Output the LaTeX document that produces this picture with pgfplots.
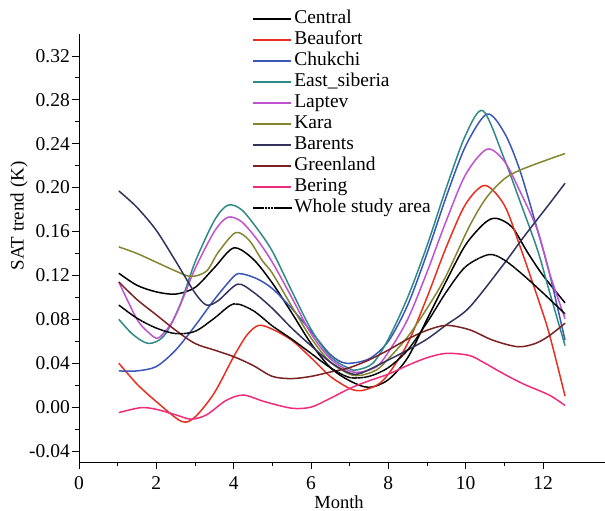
\documentclass[border=0pt]{standalone}
\usepackage{pgfplots}
\pgfplotsset{compat=1.18}
\usepackage{fontspec}
\setmainfont{Liberation Serif}
\definecolor{cBeau}{HTML}{E83020}
\definecolor{cChuk}{HTML}{3A56B8}
\definecolor{cEast}{HTML}{2F8A86}
\definecolor{cLap}{HTML}{C052D0}
\definecolor{cKara}{HTML}{858530}
\definecolor{cBar}{HTML}{33335E}
\definecolor{cGre}{HTML}{7A2222}
\definecolor{cBer}{HTML}{EE2C7C}
\begin{document}
\begin{tikzpicture}
\begin{axis}[
  x=38.667pt, y=1097.5pt,
  xmin=0, xmax=13.6, ymin=-0.05, ymax=0.34,
  axis lines*=left,
  axis line style={-, line width=0.8pt},
  tick align=outside,
  major tick length=7pt, minor tick length=4pt,
  every tick/.style={black, line width=0.8pt},
  xtick={0,2,4,6,8,10,12}, minor x tick num=1,
  ytick={-0.04,0,0.04,0.08,0.12,0.16,0.20,0.24,0.28,0.32}, minor y tick num=1,
  yticklabel style={/pgf/number format/.cd, fixed, fixed zerofill, precision=2, assume math mode=true},
  xticklabel style={/pgf/number format/assume math mode=true, yshift=-5pt},
  tick label style={font=\fontsize{19.5}{21}\selectfont, inner sep=2pt},
  xlabel={Month}, ylabel={SAT trend (K)},
  every axis x label/.style={at={(axis description cs:0.4944,-0.0928)}, anchor=center, font=\fontsize{18.5}{20}\selectfont},
  every axis y label/.style={at={(axis description cs:-0.1141,0.575)}, rotate=90, anchor=center, font=\fontsize{19}{20}\selectfont},
  legend style={at={(axis cs:4.474,0.363)}, anchor=north west, draw=none, fill=none,
    font=\fontsize{19.5}{21}\selectfont, row sep=0pt, column sep=1pt, inner sep=0pt,
    nodes={inner sep=1pt, text height=14pt, text depth=5pt}},
  legend cell align=left,
  legend image code/.code={\draw[#1, line width=2.1pt] (0pt,0pt) -- (38pt,0pt);},
  every axis plot/.append style={line width=1.5pt, smooth},
]
\addplot[black] coordinates {(1.03,0.122) (1.5,0.111) (2,0.105) (2.5,0.103) (3,0.109) (3.5,0.127) (4,0.145) (4.5,0.135) (5,0.113) (5.5,0.086) (6,0.058) (6.5,0.036) (7,0.024) (7.5,0.018) (8,0.025) (8.5,0.045) (9,0.080) (9.5,0.115) (10,0.148) (10.5,0.168) (10.8,0.172) (11.2,0.164) (11.6,0.141) (12,0.120) (12.57,0.095)};
\addlegendentry{Central}
\addplot[cBeau] coordinates {(1.03,0.040) (1.5,0.021) (2,0.005) (2.65,-0.013) (3,-0.009) (3.5,0.013) (4,0.046) (4.35,0.066) (4.65,0.0745) (5,0.071) (5.5,0.061) (6,0.045) (6.5,0.028) (7,0.017) (7.3,0.015) (7.7,0.020) (8,0.030) (8.5,0.058) (9,0.100) (9.5,0.146) (10,0.185) (10.5,0.202) (11,0.184) (11.4,0.147) (11.86,0.100) (12.16,0.067) (12.57,0.010)};
\addlegendentry{Beaufort}
\addplot[cChuk] coordinates {(1.03,0.033) (1.5,0.033) (2,0.037) (2.5,0.052) (3,0.074) (3.5,0.098) (4,0.119) (4.2,0.1215) (4.6,0.117) (5,0.108) (5.5,0.090) (6,0.069) (6.5,0.048) (6.9,0.040) (7.5,0.044) (8,0.060) (8.5,0.093) (9,0.140) (9.5,0.192) (10,0.238) (10.55,0.267) (11,0.250) (11.4,0.216) (11.86,0.161) (12.16,0.123) (12.57,0.061)};
\addlegendentry{Chukchi}
\addplot[cEast] coordinates {(1.03,0.080) (1.4,0.066) (1.8,0.058) (2.2,0.065) (2.6,0.092) (3,0.132) (3.5,0.170) (3.85,0.184) (4.2,0.180) (4.6,0.163) (5,0.142) (5.5,0.106) (6,0.071) (6.5,0.046) (7,0.035) (7.2,0.034) (7.6,0.040) (8,0.062) (8.5,0.100) (9,0.147) (9.5,0.200) (10,0.248) (10.45,0.270) (11,0.226) (11.4,0.188) (11.86,0.143) (12.16,0.106) (12.57,0.056)};
\addlegendentry{East\_siberia}
\addplot[cLap] coordinates {(1.03,0.114) (1.5,0.080) (1.8,0.068) (2.05,0.063) (2.4,0.077) (2.7,0.100) (3,0.126) (3.5,0.160) (3.85,0.173) (4.2,0.169) (4.6,0.153) (5,0.132) (5.5,0.100) (6,0.067) (6.5,0.044) (7,0.033) (7.3,0.032) (7.7,0.037) (8,0.050) (8.5,0.080) (9,0.123) (9.5,0.170) (10,0.212) (10.55,0.235) (11,0.224) (11.4,0.197) (11.86,0.161) (12.16,0.123) (12.57,0.0805)};
\addlegendentry{Laptev}
\addplot[cKara] coordinates {(1.03,0.146) (1.5,0.140) (2,0.132) (2.5,0.124) (2.9,0.119) (3.3,0.124) (3.6,0.141) (4.05,0.159) (4.4,0.152) (4.73,0.134) (5,0.122) (5.5,0.092) (6,0.063) (6.5,0.041) (7,0.030) (7.3,0.029) (7.7,0.034) (8,0.044) (8.5,0.064) (9,0.090) (9.47,0.118) (10.1,0.165) (10.54,0.191) (11,0.208) (11.41,0.216) (12.16,0.226) (12.57,0.231)};
\addlegendentry{Kara}
\addplot[cBar] coordinates {(1.03,0.197) (1.5,0.182) (2,0.161) (2.5,0.133) (3,0.104) (3.3,0.093) (3.6,0.097) (4.1,0.112) (4.5,0.105) (5,0.090) (5.5,0.072) (6,0.056) (6.5,0.041) (7,0.031) (7.3,0.031) (8,0.043) (8.5,0.052) (9,0.062) (9.5,0.075) (10.1,0.091) (11,0.131) (11.5,0.155) (12.16,0.185) (12.57,0.204)};
\addlegendentry{Barents}
\addplot[cGre] coordinates {(1.03,0.114) (1.5,0.098) (2,0.084) (2.5,0.070) (3,0.058) (3.5,0.052) (4,0.046) (4.5,0.038) (5,0.028) (5.5,0.026) (6,0.028) (6.5,0.032) (7,0.036) (7.5,0.043) (8,0.052) (8.5,0.062) (9,0.070) (9.5,0.0745) (10.1,0.0705) (10.7,0.061) (11.35,0.055) (11.8,0.058) (12.16,0.065) (12.57,0.0765)};
\addlegendentry{Greenland}
\addplot[cBer] coordinates {(1.03,-0.005) (1.6,-0.0005) (2,-0.002) (2.5,-0.007) (2.9,-0.011) (3.3,-0.007) (3.8,0.006) (4.25,0.011) (4.8,0.005) (5.5,-0.001) (6,0.000) (6.5,0.008) (7,0.017) (7.5,0.024) (8,0.030) (8.5,0.038) (9,0.045) (9.5,0.049) (10.1,0.047) (10.5,0.040) (11,0.030) (11.5,0.021) (12.16,0.011) (12.57,0.0015)};
\addlegendentry{Bering}
\addplot[black, dash pattern=on 2.5pt off 0.4pt] coordinates {(1.03,0.093) (1.5,0.081) (2,0.072) (2.5,0.067) (3,0.069) (3.5,0.081) (4,0.094) (4.5,0.088) (5,0.074) (5.5,0.062) (6,0.049) (6.5,0.036) (7,0.027) (7.5,0.028) (8,0.036) (8.5,0.052) (9,0.077) (9.5,0.105) (10,0.128) (10.6,0.139) (11,0.134) (11.5,0.120) (12,0.104) (12.57,0.085)};
\addlegendentry{Whole study area}
\coordinate (O) at (axis cs:0,-0.05);
\end{axis}
\pgfresetboundingbox
\path[use as bounding box] (O) ++(-79pt,-49pt) rectangle ++(605pt,511pt);
\end{tikzpicture}
\end{document}
